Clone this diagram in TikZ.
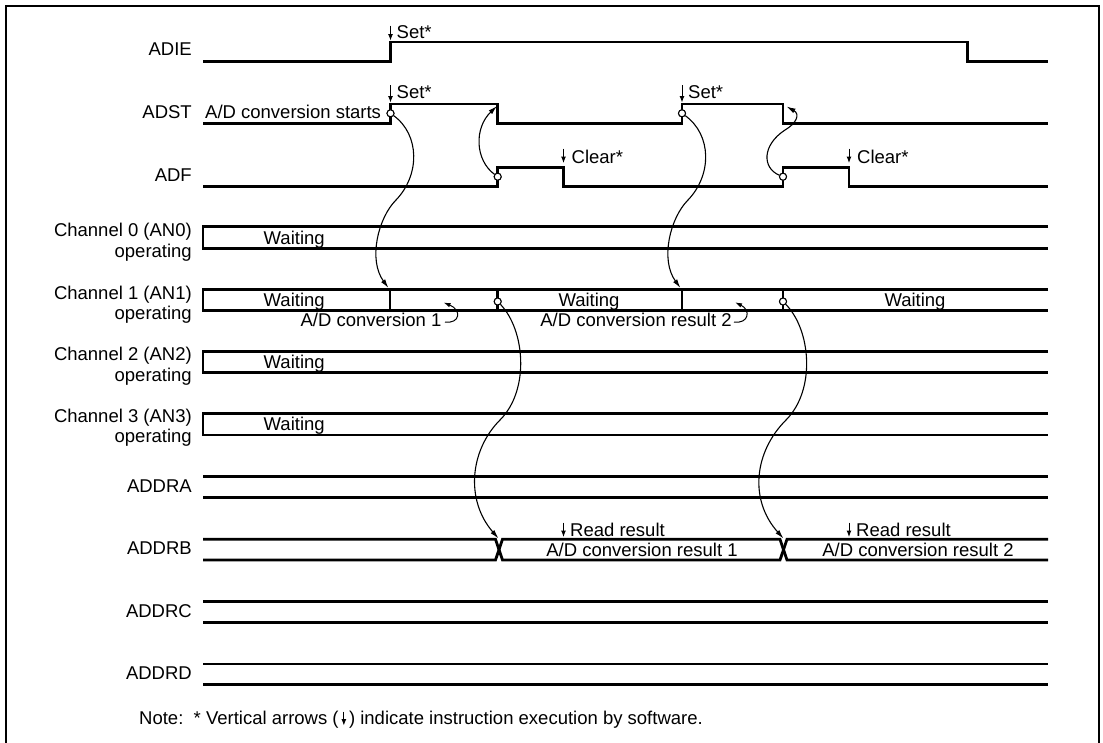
\documentclass[tikz,border=0pt]{standalone}
\usepackage{fontspec}
\setmainfont{Liberation Sans}
\usetikzlibrary{arrows.meta}
\newcommand\sigfont{\fontsize{18.5}{20.5}\selectfont}
\begin{document}
\begin{tikzpicture}[x=1pt,y=-1pt,
  sig/.style={line width=2.8pt, line join=miter},
  arr/.style={line width=1.1pt, -{Latex[length=9pt,width=5pt]}},
  swarr/.style={line width=1pt, -{Latex[length=6.5pt,width=5pt]}},
  harr/.style={line width=1pt, -{Latex[length=7pt,width=4.5pt]}},
  dot/.style={circle,draw,fill=white,inner sep=0pt,minimum size=7pt,line width=1pt},
  lbl/.style={anchor=base east, font=\sigfont, align=right, inner sep=0pt},
  txt/.style={font=\sigfont, inner sep=0pt},
]
\useasboundingbox (0,0) rectangle (1103,742);
\fill[white] (0,0) rectangle (1103,742);
\draw[line width=2pt] (6,750) -- (6,6) -- (1098.5,6) -- (1098.5,750);

% ---- labels
\node[lbl] (lADIE) at (192,55) {ADIE};
\node[lbl] (lADST) at (192,118) {ADST};
\node[lbl] (lADF) at (192,181.5) {ADF};
\node[lbl] (lCH0) at (192,257) {Channel 0 (AN0)\\operating};
\node[lbl] (lCH1) at (192,319.5) {Channel 1 (AN1)\\operating};
\node[lbl] (lCH2) at (192,381) {Channel 2 (AN2)\\operating};
\node[lbl] (lCH3) at (192,442.5) {Channel 3 (AN3)\\operating};
\node[lbl] (lADDRA) at (192,492) {ADDRA};
\node[lbl] (lADDRB) at (192,554.5) {ADDRB};
\node[lbl] (lADDRC) at (192,617) {ADDRC};
\node[lbl] (lADDRD) at (192,679) {ADDRD};

% ---- ADIE / ADST / ADF
\draw[sig] (203,61.7) -- (390.5,61.7) -- (390.5,42) -- (967.5,42) -- (967.5,61.7) -- (1048,61.7);
\draw[sig] (203,123.3) -- (390.5,123.3) -- (390.5,104) -- (497.7,104) -- (497.7,123.3)
  -- (682,123.3) -- (682,104) -- (783,104) -- (783,123.3) -- (1048,123.3);
\draw[sig] (203,186.7) -- (497.7,186.7) -- (497.7,167.5) -- (563.5,167.5) -- (563.5,186.7)
  -- (783,186.7) -- (783,167.5) -- (849,167.5) -- (849,186.7) -- (1048,186.7);

% ---- channel rows
\draw[sig] (1048,226.7) -- (203,226.7) -- (203,248.3) -- (1048,248.3);
\draw[sig] (1048,289.3) -- (203,289.3) -- (203,310.7) -- (1048,310.7);
\draw[sig] (390,289.3) -- (390,310.7);
\draw[sig] (497.7,289.3) -- (497.7,310.7);
\draw[sig] (682,289.3) -- (682,310.7);
\draw[sig] (783,289.3) -- (783,310.7);
\draw[sig] (1048,351.7) -- (203,351.7) -- (203,372.7) -- (1048,372.7);
\draw[sig] (1048,413.3) -- (203,413.3) -- (203,435) -- (1048,435);

% ---- data registers
\draw[sig] (203,476.7) -- (1048,476.7);
\draw[sig] (203,497.3) -- (1048,497.3);
\draw[sig] (203,539.3) -- (495.5,539.3) -- (499,549.7) -- (495.5,560) -- (203,560);
\draw[sig] (502.5,539.3) -- (780,539.3) -- (783.5,549.7) -- (780,560) -- (502.5,560) -- (499,549.7) -- cycle;
\draw[sig] (1048,539.3) -- (787,539.3) -- (783.5,549.7) -- (787,560) -- (1048,560);
\draw[sig] (203,601.7) -- (1048,601.7);
\draw[sig] (203,622.3) -- (1048,622.3);
\draw[sig] (203,664) -- (1048,664);
\draw[sig] (203,684.5) -- (1048,684.5);

% ---- texts
\node[txt,anchor=base west] (tstart) at (205,118) {A/D conversion starts};
\node[txt,anchor=base west] (w0) at (263.5,244.5) {Waiting};
\node[txt,anchor=base west] (w1a) at (263.5,306.5) {Waiting};
\node[txt,anchor=base] (w1b) at (589,306.5) {Waiting};
\node[txt,anchor=base] (w1c) at (915,306.5) {Waiting};
\node[txt,anchor=base west] (w2) at (263.5,368.5) {Waiting};
\node[txt,anchor=base west] (w3) at (263.5,430) {Waiting};
\node[txt,anchor=base] (conv1) at (371,326.7) {A/D conversion 1};
\node[txt,anchor=base] (conv2) at (636,326.7) {A/D conversion result 2};
\node[txt,anchor=base] (res1) at (642,556.6) {A/D conversion result 1};
\node[txt,anchor=base] (res2) at (918,556.6) {A/D conversion result 2};

% ---- software arrows and their texts
\coordinate (sa1) at (390.5,25.5);   \coordinate (sb1) at (390.5,40.5);
\coordinate (sa2) at (390.5,85);     \coordinate (sb2) at (390.5,102.5);
\coordinate (sa3) at (682,85);       \coordinate (sb3) at (682,102.5);
\coordinate (ca1) at (563.5,148.5);  \coordinate (cb1) at (563.5,163);
\coordinate (ca2) at (849,148.5);    \coordinate (cb2) at (849,163);
\coordinate (ra1) at (563.5,522.5);  \coordinate (rb1) at (563.5,537);
\coordinate (ra2) at (849,522.5);    \coordinate (rb2) at (849,537);
\draw[swarr] (sa1) -- (sb1);
\draw[swarr] (sa2) -- (sb2);
\draw[swarr] (sa3) -- (sb3);
\draw[swarr] (ca1) -- (cb1);
\draw[swarr] (ca2) -- (cb2);
\draw[swarr] (ra1) -- (rb1);
\draw[swarr] (ra2) -- (rb2);
\node[txt,anchor=base west] (set1) at (396.5,38.3) {Set*};
\node[txt,anchor=base west] (set2) at (396.5,98.3) {Set*};
\node[txt,anchor=base west] (set3) at (688,98.3) {Set*};
\node[txt,anchor=base west] (clr1) at (571.5,163) {Clear*};
\node[txt,anchor=base west] (clr2) at (857,163) {Clear*};
\node[txt,anchor=base west] (rd1) at (570,536) {Read result};
\node[txt,anchor=base west] (rd2) at (856,536) {Read result};

% ---- curved arrows
\coordinate (e1) at (388.5,288);
\coordinate (e2) at (680.5,288);
\coordinate (g1) at (497,106);
\coordinate (g2) at (786.5,106.5);
\coordinate (k1) at (498.5,538.5);
\coordinate (k2) at (783.5,538.5);
\coordinate (hs1) at (445,322);  \coordinate (he1) at (443.5,302.5);
\coordinate (hs2) at (734,322);  \coordinate (he2) at (735,302.3);

\node[dot] (d1) at (390.5,113.3) {};
\node[dot] (d2) at (682,113.3) {};
\node[dot] (f1) at (497.7,176.7) {};
\node[dot] (f2) at (783,176.7) {};
\node[dot] (h1) at (497.7,301.5) {};
\node[dot] (h2) at (783,301.5) {};

\draw[arr] (d1) .. controls (420,135) and (420,175) .. (396,200) .. controls (378,218) and (368,260) .. (e1);
\draw[arr] (d2) .. controls (712,135) and (712,175) .. (688,200) .. controls (670,218) and (660,260) .. (e2);
\draw[arr] (f1) .. controls (475,160) and (474,128) .. (g1);
\draw[arr] (f2) .. controls (762,168) and (762,145) .. (785,130) .. controls (797,123) and (800,114) .. (g2);
\draw[arr] (h1) .. controls (525,330) and (530,390) .. (500,420) .. controls (470,450) and (465,500) .. (k1);
\draw[arr] (h2) .. controls (811,330) and (816,390) .. (786,420) .. controls (754,452) and (749,500) .. (k2);
\draw[harr] (hs1) .. controls (460,324) and (462,310) .. (he1);
\draw[harr] (hs2) .. controls (749,324) and (751,310) .. (he2);

\node[dot] at (d1) {};
\node[dot] at (d2) {};
\node[dot] at (f1) {};
\node[dot] at (f2) {};
\node[dot] at (h1) {};
\node[dot] at (h2) {};

% ---- note
\node[txt,anchor=base west] (note1) at (139,724.5) {Note:\ \ * Vertical arrows (};
\coordinate (na) at ([xshift=5pt,yshift=13pt]note1.base east);
\coordinate (nb) at ([xshift=5pt,yshift=-1pt]note1.base east);
\draw[swarr] (na) -- (nb);
\node[txt,anchor=base west] (note2) at ([xshift=10pt]note1.base east) {) indicate instruction execution by software.};
\end{tikzpicture}
\end{document}
